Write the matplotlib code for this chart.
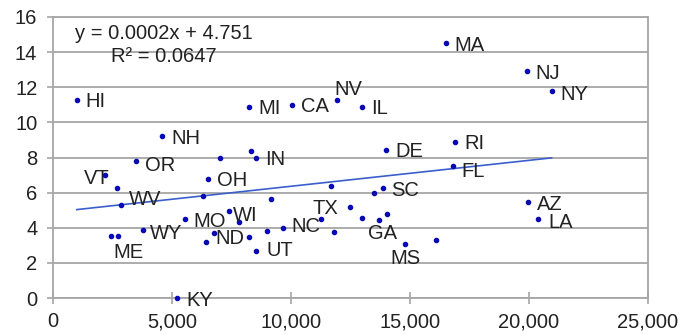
import matplotlib
matplotlib.use("Agg")
import matplotlib.pyplot as plt
from matplotlib.ticker import FuncFormatter
import numpy as np

# state labels ('' = unlabelled point), x values, y values
states = ["HI", "NH", "OR", "", "", "IN", "MI", "CA", "NV", "IL",
          "DE", "MA", "NJ", "NY", "RI", "FL", "AZ", "LA", "VT", "",
          "WV", "ME", "", "WY", "MO", "OH", "", "ND", "", "WI",
          "", "", "UT", "", "", "NC", "TX", "", "", "",
          "", "", "SC", "GA", "", "MS", "", "KY"]
x_vals = [1000, 4600, 3500, 7000, 8300, 8550, 8250, 10050, 11950, 13000,
          14000, 16500, 19900, 20950, 16900, 16800, 19950, 20400, 2200, 2700,
          2850, 2450, 2750, 3800, 5550, 6500, 6300, 6450, 6750, 7400,
          7800, 8250, 8550, 9000, 9150, 9650, 11250, 11700, 11800, 12500,
          13000, 13500, 13850, 13700, 14050, 14800, 16100, 5200]
y_vals = [11.3, 9.2, 7.8, 8.0, 8.35, 8.0, 10.9, 11.0, 11.3, 10.9,
          8.45, 14.5, 12.9, 11.8, 8.9, 7.5, 5.45, 4.5, 7.0, 6.25,
          5.3, 3.55, 3.55, 3.9, 4.5, 6.8, 5.8, 3.2, 3.7, 4.95,
          4.35, 3.5, 2.7, 3.8, 5.65, 4.0, 4.5, 6.4, 3.75, 5.2,
          4.55, 6.0, 6.25, 4.45, 4.8, 3.1, 3.3, 0.0]

eq_text = "y = 0.0002x + 4.751"
r2_text = "R² = 0.0647"

# label placement: (dx, dy) in pixels and horizontal alignment
default_offset = (9, 0, "left")
label_offsets = {
    "NV": (11, 12, "center"),
    "OR": (9, -2, "left"),
    "NY": (9, -2, "left"),
    "FL": (9, -3, "left"),
    "LA": (10, -2, "left"),
    "VT": (4, -1, "right"),
    "WV": (8, 7, "left"),
    "ME": (17, -15, "center"),
    "WY": (6, -2, "left"),
    "MO": (8, -1, "left"),
    "ND": (9, 5, "left"),
    "WI": (4, -2, "left"),
    "UT": (10, 2, "left"),
    "NC": (9, 3, "left"),
    "TX": (5, 12, "center"),
    "GA": (3, -12, "center"),
    "MS": (0, -13, "center"),
    "KY": (10, 0, "left"),
}

plt.rcParams["font.family"] = ["Liberation Sans", "DejaVu Sans"]
plt.rcParams["font.size"] = 14.5

fig = plt.figure(figsize=(6.81, 3.35), dpi=100)
ax = fig.add_axes([0.0778, 0.1104, 0.8737, 0.8389])

grid_color = "#a6a6a6"
ax.set_xlim(0, 25000)
ax.set_ylim(0, 16)
ax.set_yticks(np.arange(0, 17, 2))
ax.set_xticks(np.arange(0, 25001, 5000))
ax.xaxis.set_major_formatter(FuncFormatter(lambda v, p: f"{v:,.0f}"))
ax.grid(axis="y", color=grid_color, linewidth=1.3)
ax.set_axisbelow(True)
for s in ax.spines.values():
    s.set_color(grid_color)
    s.set_linewidth(1.3)
ax.tick_params(axis="y", direction="out", length=4.3, width=1.2,
               color=grid_color, pad=7, labelcolor="#222222")
ax.tick_params(axis="x", direction="inout", length=8.6, width=1.2,
               color=grid_color, pad=6, labelcolor="#222222")

# trend line
coef = np.polyfit(x_vals, y_vals, 1)
xs = np.array([min(x_vals), max(x_vals)])
ax.plot(xs, np.polyval(coef, xs), color="#3a5fcd", linewidth=1.2, zorder=2)

ax.scatter(x_vals, y_vals, s=9, color="#0a0ab4", zorder=3, clip_on=False)

for name, xv, yv in zip(states, x_vals, y_vals):
    if not name:
        continue
    dx, dy, ha = label_offsets.get(name, default_offset)
    ax.annotate(name, (xv, yv), xytext=(dx, dy - 2), textcoords="offset pixels",
                ha=ha, va="center", color="#222222", zorder=4)

ax.text(0.1866, 0.94, eq_text, transform=ax.transAxes, ha="center",
        va="center", color="#222222")
ax.text(0.1866, 0.858, r2_text, transform=ax.transAxes, ha="center",
        va="center", color="#222222")

fig.savefig("out.png", dpi=100)
